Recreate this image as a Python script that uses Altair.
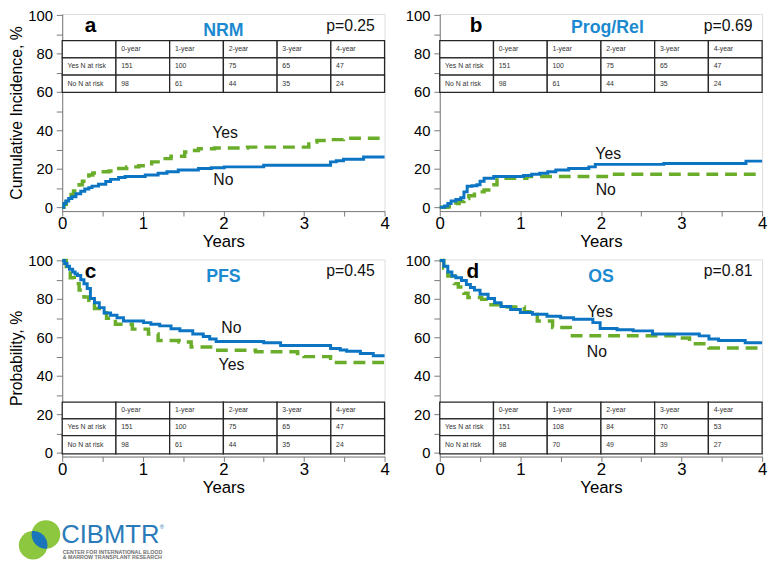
import altair as alt
import numpy as np
import pandas as pd

FONT = "Liberation Sans"
BLUE = "#0b74c3"
GREEN = "#6aad2b"
TITLE_BLUE = "#1c8ad0"
FRAME = "#5a5a5a"
AXIS = "#7a7a7a"
LOGO_GREEN = "#8dc63f"
LOGO_BLUE = "#1b75bb"

W, H = 327, 200
Y_DOM = [-2, 100.6]
X_DOM = [0, 4]

# ---------------- data ----------------
# a  NRM : solid blue = No, dashed green = Yes
a_solid_t = [0, 0.02, 0.045, 0.08, 0.12, 0.17, 0.23, 0.28, 0.33, 0.37, 0.45, 0.54, 0.6, 0.7, 0.78, 1.03, 1.19, 1.3, 1.44, 1.69, 1.85, 2.01, 2.5, 3.33, 3.4, 3.49, 3.74, 4.0]
a_solid_v = [0, 2.0, 3.2, 4.5, 5.5, 7.0, 8.3, 9.5, 10.2, 11, 12, 13.4, 14.5, 15.5, 16, 16.8, 17.7, 18.5, 19.4, 20.2, 20.6, 21, 21.9, 23.6, 24.2, 25, 26.2, 26.2]
a_dash_t = [0, 0.02, 0.05, 0.08, 0.11, 0.14, 0.18, 0.21, 0.25, 0.29, 0.33, 0.38, 0.45, 0.58, 0.66, 0.8, 0.95, 1.11, 1.23, 1.35, 1.52, 1.6, 1.69, 1.89, 2.3, 3.06, 3.16, 3.3, 3.49, 4.0]
a_dash_v = [0, 1.5, 3, 5, 6.6, 8.5, 10, 11.7, 13.5, 15, 16.8, 17.8, 18.5, 18.9, 20.2, 21, 21.6, 23.6, 25.3, 26.5, 28.7, 29.5, 30.4, 30.8, 31.3, 33.9, 34.7, 35.2, 35.9, 36.3]

# b  Prog/Rel : solid blue = Yes, dashed green = No
b_solid_t = [0, 0.06, 0.1, 0.14, 0.2, 0.26, 0.3, 0.34, 0.4, 0.46, 0.5, 0.55, 0.67, 1.04, 1.14, 1.24, 1.34, 1.44, 1.6, 1.85, 1.93, 2.78, 3.8, 4.0]
b_solid_v = [0, 0.7, 2, 3.2, 4, 4.9, 8, 10.9, 11.2, 11.7, 13.5, 15.1, 16, 16.5, 17.2, 17.7, 18.5, 19.4, 20.2, 21, 22.3, 22.8, 24, 24]
b_dash_t = [0, 0.1, 0.14, 0.2, 0.24, 0.3, 0.36, 0.43, 0.55, 0.63, 0.71, 1.08, 2.13, 4.0]
b_dash_v = [0, 0.3, 0.8, 2, 3, 4.6, 6, 8, 9, 11.7, 15.1, 16, 17.2, 17.2]

# c  PFS : solid blue = No, dashed green = Yes
c_solid_t = [0, 0.03, 0.06, 0.09, 0.13, 0.16, 0.19, 0.23, 0.27, 0.31, 0.35, 0.4, 0.46, 0.52, 0.6, 0.68, 0.76, 1.01, 1.1, 1.21, 1.35, 1.46, 1.62, 1.75, 1.83, 1.91, 2.5, 2.71, 3.33, 3.45, 3.53, 3.7, 3.86, 4.0]
c_solid_v = [100, 98.5, 97, 95.5, 94, 93, 92.2, 90, 87.9, 85.4, 80.3, 78, 75.5, 72.7, 71.5, 70.2, 68.5, 67.7, 66.8, 66, 64.5, 63.5, 61.8, 60.5, 59.2, 57.9, 57.2, 55.8, 54.2, 53.5, 52.8, 51.6, 50.5, 50.5]
c_dash_t = [0, 0.05, 0.1, 0.15, 0.21, 0.27, 0.33, 0.4, 0.46, 0.55, 0.66, 0.87, 1.07, 1.19, 1.45, 1.6, 1.93, 2.4, 2.92, 3.0, 3.33, 3.37, 4.0]
c_dash_v = [100, 95, 91, 88, 84.6, 81, 77.8, 75, 72.8, 70, 66.8, 64.3, 61.8, 58.4, 57.6, 55, 53.3, 52.5, 51.6, 50, 49.1, 46.9, 46.9]

# d  OS : solid blue = Yes, dashed green = No
d_solid_t = [0, 0.05, 0.1, 0.15, 0.2, 0.27, 0.33, 0.38, 0.43, 0.5, 0.6, 0.68, 0.76, 0.88, 1.0, 1.15, 1.33, 1.5, 1.66, 1.9, 1.99, 2.2, 2.4, 2.64, 3.22, 3.34, 3.46, 3.79, 4.0]
d_solid_v = [100, 97, 94, 92, 91, 89.6, 87.5, 86, 84.6, 82.5, 80.3, 78, 76.1, 74.5, 73, 72, 71, 70.2, 69.4, 67.7, 64.6, 64, 63.4, 61.8, 60.8, 59.2, 58.4, 57.2, 57.2]
d_dash_t = [0, 0.05, 0.1, 0.18, 0.23, 0.3, 0.35, 0.52, 0.6, 0.76, 1.05, 1.21, 1.4, 1.62, 2.99, 3.1, 3.34, 4.0]
d_dash_v = [100, 96, 92, 88, 86.2, 83, 80.8, 79.8, 77, 75.8, 73.4, 68.5, 65.2, 60.9, 59.7, 56.7, 54.5, 54.5]

years = ["0-year", "1-year", "2-year", "3-year", "4-year"]
row_names = ["Yes N at risk", "No N at risk"]
a_risk_yes = [151, 100, 75, 65, 47]
a_risk_no = [98, 61, 44, 35, 24]
b_risk_yes = [151, 100, 75, 65, 47]
b_risk_no = [98, 61, 44, 35, 24]
c_risk_yes = [151, 100, 75, 65, 47]
c_risk_no = [98, 61, 44, 35, 24]
d_risk_yes = [151, 108, 84, 70, 53]
d_risk_no = [98, 70, 49, 39, 27]

table_top_edges = [86.7, 77.7, 68.8, 59.8]
table_bottom_edges = [26.3, 17.6, 8.9, -0.6]

# ---------------- encodings ----------------
def x_axis():
    return alt.Axis(values=[i * 0.5 for i in range(9)],
                    labelExpr="datum.value % 1 == 0 ? '' + datum.value : ''",
                    title="Years", grid=False, labelFlush=False,
                    labelFontSize=17, titleFontSize=17, titleFontWeight="normal",
                    labelPadding=0, titlePadding=2, tickSize=5,
                    domainColor=AXIS, tickColor=AXIS, labelColor="#000", titleColor="#000",
                    labelFont=FONT, titleFont=FONT)


def y_axis(title):
    kw = dict(values=list(range(0, 101, 10)),
              labelExpr="datum.value % 20 == 0 ? '' + datum.value : ''",
              grid=False, labelFontSize=15, titleFontSize=16, titleFontWeight="normal",
              labelPadding=4, titlePadding=3, tickSize=6,
              domainColor=AXIS, tickColor=AXIS, labelColor="#000", titleColor="#000",
              labelFont=FONT, titleFont=FONT)
    if title:
        return alt.Axis(title=title, **kw)
    return alt.Axis(title=None, **kw)


def X(field, ytitle):
    return alt.X(f"{field}:Q", scale=alt.Scale(domain=X_DOM, nice=False, zero=False), axis=x_axis())


def Y(field, ytitle):
    return alt.Y(f"{field}:Q", scale=alt.Scale(domain=Y_DOM, nice=False, zero=False), axis=y_axis(ytitle))


def panel(letter, letter_t, name, name_t, name_v, pval, solid_t, solid_v, dash_t, dash_v,
          yes_pos, no_pos, risk_yes, risk_no, edges, ytitle, extra=None):
    cells, texts = [], []
    rows = [[""] + years,
            [row_names[0]] + [str(v) for v in risk_yes],
            [row_names[1]] + [str(v) for v in risk_no]]
    for r in range(3):
        for c in range(6):
            t0, t1 = c * 4 / 6, (c + 1) * 4 / 6
            v1, v0 = edges[r], edges[r + 1]
            cells.append({"t": t0, "t2": t1, "v": v0, "v2": v1})
            texts.append({"t": t0 + 0.065, "v": (v0 + v1) / 2, "txt": rows[r][c]})
    cells = pd.DataFrame(cells)
    texts = pd.DataFrame(texts)

    rect = alt.Chart(cells).mark_rect(fill="white", stroke="#262626", strokeWidth=1.3).encode(
        x=X("t", ytitle), x2="t2:Q", y=Y("v", ytitle), y2="v2:Q")
    ttext = alt.Chart(texts).mark_text(align="left", baseline="middle", fontSize=7, font=FONT,
                                       color="#333").encode(
        x=X("t", ytitle), y=Y("v", ytitle), text="txt:N")

    dash = alt.Chart(pd.DataFrame({"t": dash_t, "v": dash_v})).mark_line(
        interpolate="step-after", color=GREEN, strokeWidth=3.5, strokeDash=[12, 7], strokeCap="butt").encode(
        x=X("t", ytitle), y=Y("v", ytitle))
    solid = alt.Chart(pd.DataFrame({"t": solid_t, "v": solid_v})).mark_line(
        interpolate="step-after", color=BLUE, strokeWidth=3).encode(
        x=X("t", ytitle), y=Y("v", ytitle))

    lab = pd.DataFrame({"t": [yes_pos[0], no_pos[0]], "v": [yes_pos[1], no_pos[1]], "txt": ["Yes", "No"]})
    labels = alt.Chart(lab).mark_text(fontSize=16, font=FONT, color="#111").encode(
        x=X("t", ytitle), y=Y("v", ytitle), text="txt:N")

    let = alt.Chart(pd.DataFrame({"t": [letter_t], "v": [94.2], "txt": [letter]})).mark_text(
        fontSize=21, fontWeight="bold", font=FONT, color="#000").encode(
        x=X("t", ytitle), y=Y("v", ytitle), text="txt:N")
    nm = alt.Chart(pd.DataFrame({"t": [name_t], "v": [name_v], "txt": [name]})).mark_text(
        fontSize=18, fontWeight="bold", font=FONT, color=TITLE_BLUE).encode(
        x=X("t", ytitle), y=Y("v", ytitle), text="txt:N")
    pv = alt.Chart(pd.DataFrame({"t": [3.88], "v": [94.5], "txt": [pval]})).mark_text(
        fontSize=16, font=FONT, color="#111", align="right").encode(
        x=X("t", ytitle), y=Y("v", ytitle), text="txt:N")

    layers = [rect, ttext, dash, solid, labels, let, nm, pv]
    if extra:
        layers += extra
    return alt.layer(*layers).properties(width=W, height=H)


# ---------------- logo (drawn in pixel units below panel c) ----------------
logo_df = pd.DataFrame({"k": [0]})
c1 = (-29.5, 290.0, 14.5)
c2 = (-16.5, 279.0, 14.5)
d_c = np.hypot(c2[0] - c1[0], c2[1] - c1[1])
phi = np.arctan2(c2[1] - c1[1], c2[0] - c1[0])
al1 = np.arccos((d_c ** 2 + c1[2] ** 2 - c2[2] ** 2) / (2 * d_c * c1[2]))
al2 = np.arccos((d_c ** 2 + c2[2] ** 2 - c1[2] ** 2) / (2 * d_c * c2[2]))
pts = []
for a in np.linspace(phi - al1, phi + al1, 24):
    pts.append((c1[0] + c1[2] * np.cos(a), c1[1] + c1[2] * np.sin(a)))
for a in np.linspace(phi + np.pi - al2, phi + np.pi + al2, 24):
    pts.append((c2[0] + c2[2] * np.cos(a), c2[1] + c2[2] * np.sin(a)))
lens_path = "M" + " L".join(f"{x:.2f},{y:.2f}" for x, y in pts) + " Z"

logo = [
    alt.Chart(logo_df).mark_point(shape="circle", filled=True, opacity=1, strokeWidth=0,
                                  size=(2 * c1[2]) ** 2, color=LOGO_GREEN).encode(
        x=alt.value(c1[0]), y=alt.value(c1[1])),
    alt.Chart(logo_df).mark_point(shape="circle", filled=True, opacity=1, strokeWidth=0,
                                  size=(2 * c2[2]) ** 2, color=LOGO_GREEN).encode(
        x=alt.value(c2[0]), y=alt.value(c2[1])),
    alt.Chart(logo_df).mark_point(shape=lens_path, filled=True, opacity=1, strokeWidth=0,
                                  size=4, color=LOGO_BLUE).encode(
        x=alt.value(0), y=alt.value(0)),
    alt.Chart(logo_df).mark_text(text="CIBMTR", align="left", baseline="middle", fontSize=26,
                                 font=FONT, color="#2b7bb9").encode(
        x=alt.value(-1), y=alt.value(280)),
    alt.Chart(logo_df).mark_text(text="®", align="left", baseline="middle", fontSize=6,
                                 font=FONT, color="#2b7bb9").encode(
        x=alt.value(99), y=alt.value(271)),
    alt.Chart(logo_df).mark_text(text="CENTER FOR INTERNATIONAL BLOOD", align="left", baseline="middle",
                                 fontSize=5.4, fontWeight="bold", font=FONT, color="#6e6e6e").encode(
        x=alt.value(0.5), y=alt.value(296.5)),
    alt.Chart(logo_df).mark_text(text="& MARROW TRANSPLANT RESEARCH", align="left", baseline="middle",
                                 fontSize=5.4, fontWeight="bold", font=FONT, color="#6e6e6e").encode(
        x=alt.value(0.5), y=alt.value(301.5)),
]

pa = panel("a", 0.35, "NRM", 2.0, 91.7, "p=0.25", a_solid_t, a_solid_v, a_dash_t, a_dash_v,
           (2.02, 38.4), (2.0, 13.9), a_risk_yes, a_risk_no, table_top_edges, "Cumulative Incidence, %")
pb = panel("b", 0.45, "Prog/Rel", 2.08, 93.0, "p=0.69", b_solid_t, b_solid_v, b_dash_t, b_dash_v,
           (2.09, 27.6), (2.06, 8.8), b_risk_yes, b_risk_no, table_top_edges, None)
pc = panel("c", 0.35, "PFS", 2.0, 91.3, "p=0.45", c_solid_t, c_solid_v, c_dash_t, c_dash_v,
           (2.1, 45.4), (2.1, 64.7), c_risk_yes, c_risk_no, table_bottom_edges, "Probability, %", extra=logo)
pd_ = panel("d", 0.41, "OS", 2.0, 91.3, "p=0.81", d_solid_t, d_solid_v, d_dash_t, d_dash_v,
            (1.99, 73.2), (1.95, 52.5), d_risk_yes, d_risk_no, table_bottom_edges, None)

chart = alt.concat(pa, pb, pc, pd_, columns=2, spacing={"row": 49, "column": 56}, bounds="flush").properties(
    padding={"top": -5, "left": 0, "right": 0, "bottom": 0}
).configure_view(stroke=FRAME, strokeWidth=1).configure(font=FONT)

chart.save("out.html", embed_options={"renderer": "svg", "actions": False})
